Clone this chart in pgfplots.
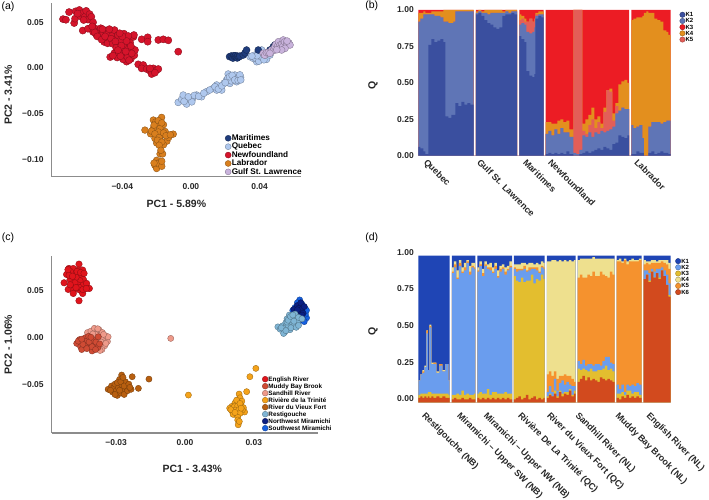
\documentclass[border=0pt]{standalone}
\usepackage{fontspec}
\setmainfont{Liberation Sans}
\usepackage{pgfplots}
\usepackage{pgfplotstable}
\pgfplotsset{compat=1.18}

% panel (a)
\definecolor{mar}{HTML}{1F3C7C}
\definecolor{que}{HTML}{AFC8EE}
\definecolor{nfl}{HTML}{D5142B}
\definecolor{lab}{HTML}{D97F1E}
\definecolor{gsl}{HTML}{C9B3DC}
% panel (b)
\definecolor{bA}{HTML}{3A4F9F}
\definecolor{bB}{HTML}{5F75B6}
\definecolor{bC}{HTML}{EC1C24}
\definecolor{bD}{HTML}{E38F1E}
\definecolor{bE}{HTML}{E35E58}
% panel (c)
\definecolor{eng}{HTML}{E0141C}
\definecolor{mud}{HTML}{CF4B34}
\definecolor{san}{HTML}{EE9A8A}
\definecolor{riv}{HTML}{F5A31A}
\definecolor{vie}{HTML}{B85F10}
\definecolor{res}{HTML}{7FB5D5}
\definecolor{nwm}{HTML}{0A1E82}
\definecolor{swm}{HTML}{1560E0}
% panel (d)
\definecolor{dA}{HTML}{1F45B5}
\definecolor{dB}{HTML}{6A9DEE}
\definecolor{dC}{HTML}{E3BE2F}
\definecolor{dD}{HTML}{EEE08E}
\definecolor{dE}{HTML}{F5922E}
\definecolor{dF}{HTML}{D24A1E}

% individuals along x (zero rows make the white gaps between groups)
\pgfplotstableread{
x k1 k2 k5 k4 k3
0 .06 .86 0 .06 .02
2 .05 .89 0 .04 .02
5 .03 .94 0 .02 .01
7 .01 .96 0 .01 .02
10 .76 .21 0 .01 .02
13 .80 .17 0 .02 .01
16 .78 .18 0 .03 .01
19 .79 .17 0 .03 .01
22 .80 .15 0 .04 .01
25 .78 .14 0 .08 0
27 .27 .65 0 .08 0
30 .26 .65 0 .09 0
33 .28 .63 0 .09 0
35 .28 .64 0 .08 0
37 .36 .63 0 .01 0
40 .34 .65 0 .01 0
43 .37 .62 0 .01 0
46 .35 .64 0 .01 0
49 .36 .63 0 .01 0
52 .35 .64 0 .01 0
55.4 0 0 0 0 0
57.6 .97 .01 0 .01 .01
60 .98 .01 0 .01 0
63 .96 .02 0 .01 .01
66 .93 .05 0 .02 0
69 .91 .06 0 .03 0
72 .90 .08 0 .02 0
75 .88 .10 0 .02 0
78 .87 .11 0 .02 0
81 .88 .10 0 .02 0
84 .96 .02 0 .01 .01
87 .97 .02 0 .01 0
90 .97 .01 0 .02 0
93 .98 .01 0 .01 0
96 .97 .02 0 .01 0
98.7 0 0 0 0 0
101 .82 .08 .03 .04 .03
103 .80 .11 .03 .02 .04
106 .78 .12 .02 .02 .06
108 .58 .27 .07 0 .08
111 .55 .29 .10 0 .06
114 .54 .31 .07 0 .08
116 .56 .32 .06 0 .06
117 .94 .02 .01 .01 .02
120 .96 .01 0 .02 .01
123 .95 .02 0 .02 .01
125.4 0 0 0 0 0
127.3 .01 .14 0 .08 .77
130 .02 .15 0 .06 .77
133 .01 .13 0 .08 .78
136 .02 .16 0 .04 .78
139 .01 .14 0 .09 .76
142 .02 .17 0 .06 .75
145 .01 .15 0 .07 .77
148 .03 .13 0 .08 .76
151 .01 .12 0 .05 .82
155 0 .02 .98 0 0
158 0 .01 .99 0 0
161 .01 .03 .96 0 0
164 .02 .12 .03 .05 .78
167 .03 .10 .02 .10 .75
170 .02 .14 .05 .07 .72
173 .03 .10 .12 .08 .67
176 .04 .12 .03 .06 .75
179 .05 .10 .08 .04 .73
182 .04 .13 .02 .03 .78
185 .06 .10 .14 .03 .67
188 .05 .12 .28 0 .55
191 .04 .14 .26 .02 .54
194 .08 .12 .04 .05 .71
197 .09 .20 .05 .02 .64
200 .14 .17 0 .18 .51
203 .13 .20 0 .18 .49
206 .12 .20 0 .20 .48
209 .14 .18 0 .18 .50
210.7 0 0 0 0 0
213 .01 .20 0 .72 .07
215 .01 .18 0 .75 .06
218 .03 .17 0 .75 .05
221 .02 .19 0 .74 .05
224 .02 .10 0 .84 .04
225.5 0 0 0 .98 .02
228 0 0 0 .99 .01
230 .02 .18 0 .78 .02
233 .03 .20 0 .75 .02
236 .01 .22 0 .71 .06
239 .02 .21 0 .70 .07
242 .03 .19 0 .70 .08
245 .02 .21 0 .63 .14
248 .02 .22 0 .61 .15
250 .01 .23 0 .59 .17
252.4 .01 .23 0 .59 .17
}\bdata

\pgfplotstableread{
x k6 k3 k2 k5 k4 k1
0 .03 .02 .10 0 0 .85
2 .04 .02 .13 0 0 .81
4 .03 .03 .14 .01 .01 .78
6 .04 .02 .18 0 .01 .75
8 .03 .03 .41 .02 0 .51
9.5 .04 .03 .15 0 0 .78
11 .03 .04 .44 .01 .01 .47
13 .04 .02 .20 0 .01 .73
15 .03 .03 .20 .01 0 .73
18 .04 .02 .14 0 .01 .79
21 .03 .03 .19 .01 0 .74
24 .04 .02 .15 0 .01 .78
27 .03 .03 .20 0 0 .74
30 .03 .02 .10 0 0 .85
31.4 0 0 0 0 0 0
33.6 .02 .03 .83 .01 .03 .08
35.5 .03 .02 .87 .02 .02 .04
38 .02 .04 .78 .01 .05 .10
40.5 .02 .03 .88 .02 .02 .03
43 .03 .05 .80 .01 .03 .08
45.5 .02 .03 .85 .02 .03 .05
48 .02 .04 .89 .01 .01 .03
50.5 .03 .02 .82 .02 .04 .07
53 .02 .03 .87 .01 .02 .05
55.5 .02 .04 .85 .01 .03 .05
57 0 0 0 0 0 0
59 .03 .03 .83 .01 .02 .08
61 .02 .05 .86 .01 .02 .04
63.5 .03 .03 .80 .02 .03 .09
66 .02 .04 .87 .01 .02 .04
68.5 .03 .06 .82 .01 .02 .06
71 .02 .03 .85 .02 .03 .05
73.5 .03 .04 .81 .01 .03 .08
76 .02 .05 .84 .02 .02 .05
78.5 .03 .03 .79 .01 .04 .10
81 .02 .04 .83 .02 .02 .07
83.5 .03 .03 .85 .01 .02 .06
86 .02 .05 .80 .02 .03 .08
88.5 .03 .03 .84 .01 .02 .07
91 .02 .04 .86 .01 .03 .04
93.7 0 0 0 0 0 0
95.6 .02 .84 .05 .01 .02 .06
97.5 .03 .80 .06 .02 .03 .06
100 .04 .78 .08 .01 .03 .06
102.5 .02 .83 .05 .01 .04 .05
105 .03 .79 .09 .02 .02 .05
107.5 .05 .78 .06 .01 .04 .06
110 .02 .81 .07 .02 .03 .05
112.5 .03 .84 .04 .01 .03 .05
115 .04 .77 .10 .01 .02 .06
117.5 .02 .82 .06 .02 .03 .05
120 .03 .80 .05 .01 .05 .06
122.5 .02 .85 .05 .01 .03 .04
125 .03 .81 .07 .01 .03 .05
126.4 0 0 0 0 0 0
128.6 .03 .01 .03 .12 .77 .04
130.5 .05 .01 .05 .10 .75 .04
133 .04 0 .03 .11 .79 .03
135.5 .06 .02 .08 .05 .76 .03
138 .03 .01 .04 .08 .80 .04
140.5 .07 .01 .05 .05 .79 .03
143 .04 .02 .09 .03 .78 .04
145.5 .06 .01 .05 .07 .78 .03
148 .05 .02 .07 .04 .78 .04
150.5 .08 .01 .03 .06 .79 .03
153 .04 .01 .06 .05 .80 .04
155.5 .06 .02 .03 .03 .83 .03
157.4 0 0 0 0 0 0
159.3 .14 .09 .05 .57 .12 .03
161.5 .16 .06 .04 .61 .11 .02
164 .18 .05 .06 .56 .13 .02
166.5 .15 .07 .03 .60 .13 .02
169 .17 .04 .05 .61 .11 .02
171.5 .15 .08 .03 .60 .12 .02
174 .16 .05 .04 .64 .10 .01
176.5 .15 .06 .05 .60 .12 .02
179 .14 .08 .04 .60 .12 .02
181.5 .17 .05 .03 .64 .09 .02
184 .16 .07 .05 .59 .11 .02
186.5 .15 .10 .06 .55 .12 .02
189 .16 .06 .09 .54 .13 .02
191.5 .15 .08 .04 .62 .09 .02
194 .14 .07 .05 .61 .11 .02
196.4 0 0 0 0 0 0
198.3 .03 .03 .06 .84 .01 .03
200.5 .02 .04 .03 .87 .02 .02
203 .04 .03 .05 .83 .01 .04
205.5 .03 .02 .02 .90 .01 .02
208 .05 .03 .04 .82 .02 .04
210.5 .03 .05 .03 .85 .01 .03
213 .04 .02 .06 .84 .02 .02
215.5 .03 .04 .04 .85 .01 .03
218 .04 .03 .06 .83 .01 .03
220.5 .03 .02 .07 .85 .01 .02
223.4 0 0 0 0 0 0
225.3 .84 0 .06 .04 .03 .03
227.5 .87 0 .03 .05 .01 .04
230 .82 .01 .05 .06 .02 .04
232.5 .89 0 .02 .04 .02 .03
235 .85 0 .04 .06 .02 .03
237.5 .88 0 .03 .04 .01 .04
240 .84 .01 .06 .04 .02 .03
242.5 .90 0 .02 .04 .01 .03
245 .86 0 .04 .05 .02 .03
247.5 .80 0 .07 .07 .03 .03
250 .72 .01 .08 .10 .04 .05
252.4 .72 .01 .08 .10 .04 .05
}\ddata

\pgfplotsset{
  pt/.style 2 args={only marks, mark=*, forget plot, mark size=#2,
    mark options={fill=#1, draw=#1!65!black, line width=0.35pt}},
  lg/.style 2 args={only marks, mark=*, mark size=#2,
    mark options={fill=#1, draw=#1!65!black, line width=0.35pt}},
  layer/.style={const plot, no marks, draw=none, fill=#1, forget plot},
  commonax/.style={
    scale only axis, clip=true,
    scaled ticks=false,
    major tick length=0pt,
    tick label style={font=\bfseries\fontsize{8.5}{10}\selectfont, text=black!85},
    label style={font=\bfseries\fontsize{10.5}{12}\selectfont, text=black!85},
    legend image code/.code={\draw[##1] plot coordinates {(3pt,0pt)};},
  },
  pcaax/.style={
    commonax,
    axis x line=bottom, axis y line=left,
    axis line style={-, black!45, line width=1.1pt},
    xticklabel style={yshift=-3pt},
    yticklabel style={xshift=-4.5pt},
    xlabel style={at={(axis description cs:0.5,-0.155)}, anchor=center},
    legend cell align=left,
  },
  barax/.style={
    commonax,
    axis line style={draw=none},
    xmin=0, xmax=252.4, ymin=0, ymax=1,
    ytick={0,0.25,0.5,0.75,1},
    yticklabels={0.00,0.25,0.50,0.75,1.00},
    ylabel=Q,
    ylabel style={at={(axis description cs:-0.18,0.48)}, anchor=center},
    yticklabel style={xshift=-1pt},
    xticklabel style={rotate=-45, anchor=north west, font=\bfseries\fontsize{9}{10}\selectfont},
    legend cell align=left,
  },
}

\begin{document}
\begin{tikzpicture}[x=1pt,y=1pt]
\useasboundingbox (0,0) rectangle (709,499);
\node[anchor=center, font=\fontsize{10.5}{12}\selectfont] at (8,492) {(a)};
\node[anchor=center, font=\fontsize{10.5}{12}\selectfont] at (371.7,493) {(b)};
\node[anchor=center, font=\fontsize{10.5}{12}\selectfont] at (8,261) {(c)};
\node[anchor=center, font=\fontsize{10.5}{12}\selectfont] at (371.7,261) {(d)};

% ---- (a) PCA regional
\begin{axis}[pcaax,
  at={(51.7pt,322.3pt)}, anchor=south west, width=249.3pt, height=173.4pt,
  xmin=-0.0811, xmax=0.0641, ymin=-0.1189, ymax=0.0708,
  xtick={-0.04,0,0.04}, xticklabels={−0.04,0.00,0.04},
  ytick={-0.10,-0.05,0,0.05}, yticklabels={−0.10,−0.05,0.00,0.05},
  xlabel={PC1 - 5.89\%}, ylabel={PC2 - 3.41\%},
  ylabel style={at={(axis description cs:-0.174,0.47)}, anchor=center},
  legend style={draw=none, fill=none, at={(0.695,0.247)}, anchor=north west, inner sep=0pt,
    font=\bfseries\fontsize{8.2}{9}\selectfont, row sep=0pt,
    nodes={inner sep=0.6pt, text height=5.8pt, text depth=1.4pt}},
]
\addplot[pt={nfl}{3.6pt}] table {
-.0745 .0535
-.0728 .0528
-.0710 .0612
-.0680 .0492
-.0675 .0540
-.0672 .0620
-.0650 .0635
-.0642 .0565
-.0632 .0600
-.0618 .0560
-.0610 .0625
-.0600 .0530
-.0590 .0590
-.0580 .0560
-.0570 .0500
-.0630 .0410
-.0588 .0434
-.0570 .0395
-.0555 .0430
-.0550 .0360
-.0540 .0400
-.0530 .0350
-.0525 .0435
-.0510 .0380
-.0505 .0285
-.0495 .0410
-.0490 .0330
-.0480 .0390
-.0470 .0120
-.0470 .0280
-.0460 .0350
-.0450 .0310
-.0445 .0415
-.0430 .0270
-.0425 .0360
-.0415 .0225
-.0410 .0300
-.0400 .0190
-.0390 .0375
-.0445 .0165
-.0430 .0115
-.0385 .0130
-.0380 .0240
-.0375 .0070
-.0365 .0165
-.0355 .0280
-.0350 .0100
-.0340 .0205
-.0335 .0340
-.0330 .0140
-.0326 .0197
-.0400 .0125
-.0360 .0220
-.0332 .0361
-.0560 .0390
-.0545 .0345
-.0520 .0310
-.0515 .0425
-.0500 .0345
-.0485 .0270
-.0475 .0425
-.0465 .0320
-.0455 .0265
-.0440 .0290
-.0435 .0220
-.0420 .0165
-.0405 .0245
-.0395 .0095
-.0370 .0120
-.0360 .0085
-.0345 .0160
-.0350 .0240
-.0380 .0180
-.0410 .0130
-.0425 .0195
-.0455 .0135
-.0365 .0350
-.0375 .0295
-.0400 .0345
-.0415 .0380
-.0600 .0430
-.0575 .0455
-.0660 .0595
-.0625 .0525
-.0307 .0040
-.0278 .0033
-.0287 -.0004
-.0258 -.0011
-.0239 -.0029
-.0219 -.0004
-.0200 -.0022
-.0190 -.0011
-.0229 -.0066
-.0210 -.0051
-.0239 -.0004
-.0287 .0314
-.0252 .0336
-.0252 .0288
-.0190 .0307
-.0161 .0314
-.0132 .0303
-.0074 .0179
};
\addplot[pt={lab}{3.4pt}] table {
-.0268 -.0679
-.0219 -.0569
-.0205 -.0590
-.0171 -.0540
-.0200 -.0610
-.0160 -.0620
-.0180 -.0660
-.0219 -.0660
-.0150 -.0695
-.0103 -.0723
-.0235 -.0720
-.0210 -.0770
-.0180 -.0790
-.0140 -.0800
-.0200 -.0820
-.0160 -.0840
-.0175 -.0740
-.0130 -.0760
-.0190 -.0700
-.0180 -.0940
-.0165 -.0940
-.0200 -.1010
-.0210 -.1065
-.0180 -.1045
-.0200 -.1099
-.0190 -.1040
-.0215 -.0625
-.0190 -.0575
-.0170 -.0600
-.0230 -.0690
-.0210 -.0720
-.0185 -.0760
-.0160 -.0710
-.0145 -.0740
-.0120 -.0730
-.0195 -.0790
-.0170 -.0810
-.0185 -.0845
-.0175 -.0900
-.0195 -.1045
-.0170 -.1075
-.0215 -.1040
-.0170 -.1020
};
\addplot[pt={que}{3.5pt}] table {
.0344 .0124
.0373 .0142
.0383 .0069
.0402 .0095
.0421 .0124
.0392 .0161
.0440 .0095
.0363 .0106
.0412 .0197
.0460 .0142
.0375 .0110
.0395 .0075
.0410 .0120
.0425 .0090
.0385 .0135
.0355 .0130
-.0074 -.0376
-.0054 -.0343
-.0045 -.0296
-.0025 -.0394
-.0006 -.0343
.0010 -.0332
.0033 -.0296
.0062 -.0314
.0091 -.0259
.0130 -.0223
.0150 -.0241
.0169 -.0212
.0192 -.0168
.0208 -.0131
.0217 -.0066
.0227 -.0168
.0247 -.0113
.0266 -.0150
.0289 -.0102
.0256 -.0077
.0179 -.0241
.0150 -.0186
.0215 -.0110
.0235 -.0140
.0275 -.0115
.0005 -.0370
-.0040 -.0365
-.0015 -.0315
.0020 -.0300
.0045 -.0310
.0075 -.0275
.0110 -.0240
.0140 -.0205
.0160 -.0230
.0180 -.0195
.0200 -.0160
.0225 -.0095
.0240 -.0080
.0255 -.0130
.0275 -.0135
.0285 -.0075
.0290 -.0130
};
\addplot[pt={mar}{3.5pt}] table {
.0225 .0124
.0235 .0132
.0240 .0118
.0245 .0108
.0250 .0135
.0256 .0124
.0260 .0135
.0265 .0115
.0270 .0110
.0272 .0130
.0280 .0122
.0285 .0130
.0305 .0142
.0315 .0165
.0324 .0197
.0392 .0197
.0460 .0197
.0480 .0234
.0489 .0252
.0490 .0210
};
\addplot[pt={gsl}{3.5pt}] table {
.0421 .0161
.0430 .0140
.0440 .0168
.0450 .0170
.0470 .0197
.0480 .0190
.0489 .0234
.0495 .0260
.0505 .0240
.0510 .0288
.0519 .0252
.0520 .0215
.0530 .0265
.0535 .0235
.0538 .0307
.0545 .0285
.0558 .0270
.0570 .0275
.0577 .0252
.0548 .0215
.0528 .0197
.0460 .0161
.0500 .0200
.0560 .0295
};
\addlegendimage{lg={mar}{3pt}}\addlegendentry{Maritimes}
\addlegendimage{lg={que}{3pt}}\addlegendentry{Quebec}
\addlegendimage{lg={nfl}{3pt}}\addlegendentry{Newfoundland}
\addlegendimage{lg={lab}{3pt}}\addlegendentry{Labrador}
\addlegendimage{lg={gsl}{3pt}}\addlegendentry{Gulf St. Lawrence}
\end{axis}

% ---- (b) admixture regional: layers painted from the top one down, each to its running sum
\begin{axis}[barax,
  at={(418.3pt,343.3pt)}, anchor=south west, width=252.4pt, height=145.7pt,
  xtick={7.3,60.7,106.7,131.7,218},
  xticklabels={Quebec,Gulf St. Lawrence,Maritimes,Newfoundland,Labrador},
  xticklabel style={yshift=3.2pt},
  legend style={draw=none, fill=none, at={(1.035,0.99)}, anchor=north west, inner sep=0pt,
    font=\bfseries\fontsize{6}{7}\selectfont, row sep=0pt,
    nodes={inner sep=0.4pt, text height=4.6pt, text depth=0.8pt}},
]
\addplot[layer=bC] table[x=x, y expr=\thisrow{k1}+\thisrow{k2}+\thisrow{k5}+\thisrow{k4}+\thisrow{k3}] {\bdata} \closedcycle;
\addplot[layer=bD] table[x=x, y expr=\thisrow{k1}+\thisrow{k2}+\thisrow{k5}+\thisrow{k4}] {\bdata} \closedcycle;
\addplot[layer=bE] table[x=x, y expr=\thisrow{k1}+\thisrow{k2}+\thisrow{k5}] {\bdata} \closedcycle;
\addplot[layer=bB] table[x=x, y expr=\thisrow{k1}+\thisrow{k2}] {\bdata} \closedcycle;
\addplot[layer=bA] table[x=x, y=k1] {\bdata} \closedcycle;
\addlegendimage{lg={bA}{2.7pt}}\addlegendentry{K1}
\addlegendimage{lg={bB}{2.7pt}}\addlegendentry{K2}
\addlegendimage{lg={bC}{2.7pt}}\addlegendentry{K3}
\addlegendimage{lg={bD}{2.7pt}}\addlegendentry{K4}
\addlegendimage{lg={bE}{2.7pt}}\addlegendentry{K5}
\end{axis}

% ---- (c) PCA rivers
\begin{axis}[pcaax,
  at={(51.7pt,66pt)}, anchor=south west, width=266.3pt, height=177pt,
  xmin=-0.0581, xmax=0.058, ymin=-0.1007, ymax=0.0864,
  xtick={-0.03,0,0.03}, xticklabels={−0.03,0.00,0.03},
  ytick={-0.05,0,0.05}, yticklabels={−0.05,0.00,0.05},
  xlabel={PC1 - 3.43\%}, ylabel={PC2 - 1.06\%},
  xlabel style={at={(axis description cs:0.528,-0.2)}, anchor=center},
  ylabel style={at={(axis description cs:-0.163,0.5)}, anchor=center},
  legend style={draw=none, fill=none, at={(0.79,0.325)}, anchor=north west, inner sep=0pt,
    font=\bfseries\fontsize{6.3}{7}\selectfont, row sep=0pt,
    nodes={inner sep=0.4pt, text height=5pt, text depth=1.2pt}},
]
\addplot[pt={eng}{3.3pt}] table {
-.0462 .0778
-.0506 .0732
-.0487 .0732
-.0465 .0715
-.0446 .0715
-.0516 .0669
-.0494 .0680
-.0472 .0662
-.0450 .0662
-.0443 .0616
-.0501 .0616
-.0479 .0609
-.0458 .0602
-.0527 .0581
-.0487 .0556
-.0465 .0556
-.0443 .0556
-.0429 .0574
-.0509 .0511
-.0484 .0504
-.0458 .0504
-.0417 .0521
-.0446 .0468
-.0487 .0468
-.0462 .0391
-.0500 .0700
-.0475 .0640
-.0505 .0660
-.0490 .0650
-.0470 .0700
-.0455 .0690
-.0440 .0680
-.0480 .0580
-.0460 .0530
-.0445 .0510
-.0500 .0560
-.0475 .0530
-.0430 .0520
-.0510 .0720
};
\addplot[pt={san}{3.1pt}] table {
-.0425 .0055
-.0410 .0070
-.0395 .0100
-.0385 .0060
-.0375 .0085
-.0370 .0030
-.0360 .0055
-.0355 -.0010
-.0345 .0020
-.0338 -.0040
-.0350 -.0085
-.0362 -.0125
-.0375 -.0100
-.0335 .0010
-.0355 .0035
-.0365 -.0045
-.0390 .0035
-.0402 .0040
-.0380 .0095
-.0345 -.0060
-.0370 -.0135
-.0062 -.0007
};
\addplot[pt={mud}{3.1pt}] table {
-.0472 -.0060
-.0460 -.0020
-.0455 -.0095
-.0450 -.0125
-.0440 -.0040
-.0435 .0000
-.0432 -.0085
-.0425 -.0030
-.0420 .0015
-.0415 -.0110
-.0412 -.0060
-.0405 -.0140
-.0400 -.0025
-.0395 -.0085
-.0388 -.0045
-.0380 -.0105
-.0378 .0010
-.0372 -.0065
-.0445 -.0070
-.0428 -.0115
-.0465 -.0035
-.0450 -.0015
-.0418 -.0045
-.0405 -.0095
-.0390 -.0125
-.0410 .0005
};
\addplot[pt={vie}{3.1pt}] table {
-.0335 -.0545
-.0320 -.0510
-.0315 -.0575
-.0310 -.0525
-.0305 -.0490
-.0300 -.0560
-.0295 -.0610
-.0290 -.0530
-.0285 -.0440
-.0280 -.0585
-.0275 -.0500
-.0270 -.0545
-.0265 -.0600
-.0276 -.0394
-.0260 -.0465
-.0255 -.0525
-.0250 -.0560
-.0295 -.0475
-.0230 -.0412
-.0235 -.0545
-.0203 -.0535
-.0157 -.0437
-.0280 -.0465
-.0265 -.0510
-.0285 -.0555
-.0245 -.0490
-.0305 -.0600
-.0270 -.0420
-.0240 -.0525
-.0325 -.0555
};
\addplot[pt={riv}{3.1pt}] table {
.0236 -.0595
.0240 -.0635
.0218 -.0690
.0232 -.0680
.0248 -.0670
.0205 -.0725
.0195 -.0745
.0215 -.0730
.0230 -.0720
.0245 -.0715
.0255 -.0740
.0260 -.0785
.0205 -.0775
.0220 -.0765
.0235 -.0760
.0250 -.0765
.0210 -.0810
.0225 -.0805
.0240 -.0800
.0230 -.0840
.0230 -.0870
.0232 -.0920
.0237 -.0885
.0225 -.0660
.0240 -.0695
.0200 -.0760
.0218 -.0790
.0245 -.0745
.0015 -.0606
.0269 -.0570
.0283 -.0412
.0309 -.0324
};
\addplot[pt={swm}{3.1pt}] table {
.0500 .0400
.0490 .0370
.0480 .0320
.0525 .0305
.0530 .0210
.0515 .0190
.0500 .0180
.0525 .0250
.0470 .0290
.0510 .0355
.0520 .0170
.0530 .0290
};
\addplot[pt={nwm}{3.1pt}] table {
.0475 .0300
.0485 .0270
.0490 .0340
.0495 .0310
.0500 .0280
.0505 .0370
.0510 .0300
.0515 .0260
.0520 .0330
.0500 .0225
.0490 .0295
.0510 .0240
};
\addplot[pt={res}{3.1pt}] table {
.0405 .0115
.0415 .0090
.0425 .0125
.0435 .0060
.0437 .0105
.0440 .0160
.0445 .0200
.0450 .0130
.0455 .0240
.0458 .0085
.0465 .0170
.0470 .0210
.0475 .0120
.0480 .0250
.0490 .0165
.0495 .0215
.0510 .0200
.0462 .0105
.0445 .0165
.0430 .0045
.0420 .0105
.0440 .0075
.0450 .0185
.0460 .0225
.0475 .0175
.0485 .0110
.0470 .0240
.0495 .0130
};
\addlegendimage{lg={eng}{2.9pt}}\addlegendentry{English River}
\addlegendimage{lg={mud}{2.9pt}}\addlegendentry{Muddy Bay Brook}
\addlegendimage{lg={san}{2.9pt}}\addlegendentry{Sandhill River}
\addlegendimage{lg={riv}{2.9pt}}\addlegendentry{Rivière de la Trinité}
\addlegendimage{lg={vie}{2.9pt}}\addlegendentry{River du Vieux Fort}
\addlegendimage{lg={res}{2.9pt}}\addlegendentry{Restigouche}
\addlegendimage{lg={nwm}{2.9pt}}\addlegendentry{Northwest Miramichi}
\addlegendimage{lg={swm}{2.9pt}}\addlegendentry{Southwest Miramichi}
\end{axis}

% ---- (d) admixture rivers
\begin{axis}[barax,
  at={(418.3pt,96.7pt)}, anchor=south west, width=252.4pt, height=146.7pt,
  yticklabel style={yshift=3.3pt},
  xtick={6.7,41.7,68.3,102.7,131.7,160,200,231},
  xticklabel style={xshift=3.9pt, yshift=-2pt},
  xticklabels={Restigouche (NB),Miramichi – Upper SW (NB),Miramichi – Upper NW (NB),Rivière De La Trinité (QC),River du Vieux Fort (QC),Sandhill River (NL),Muddy Bay Brook (NL),English River (NL)},
  legend style={draw=none, fill=none, at={(1.018,0.985)}, anchor=north west, inner sep=0pt,
    font=\bfseries\fontsize{6}{7}\selectfont, row sep=0pt,
    nodes={inner sep=0.4pt, text height=4.6pt, text depth=0.8pt}},
]
\addplot[layer=dA] table[x=x, y expr=\thisrow{k6}+\thisrow{k3}+\thisrow{k2}+\thisrow{k5}+\thisrow{k4}+\thisrow{k1}] {\ddata} \closedcycle;
\addplot[layer=dD] table[x=x, y expr=\thisrow{k6}+\thisrow{k3}+\thisrow{k2}+\thisrow{k5}+\thisrow{k4}] {\ddata} \closedcycle;
\addplot[layer=dE] table[x=x, y expr=\thisrow{k6}+\thisrow{k3}+\thisrow{k2}+\thisrow{k5}] {\ddata} \closedcycle;
\addplot[layer=dB] table[x=x, y expr=\thisrow{k6}+\thisrow{k3}+\thisrow{k2}] {\ddata} \closedcycle;
\addplot[layer=dC] table[x=x, y expr=\thisrow{k6}+\thisrow{k3}] {\ddata} \closedcycle;
\addplot[layer=dF] table[x=x, y=k6] {\ddata} \closedcycle;
\addlegendimage{lg={dA}{2.7pt}}\addlegendentry{K1}
\addlegendimage{lg={dB}{2.7pt}}\addlegendentry{K2}
\addlegendimage{lg={dC}{2.7pt}}\addlegendentry{K3}
\addlegendimage{lg={dD}{2.7pt}}\addlegendentry{K4}
\addlegendimage{lg={dE}{2.7pt}}\addlegendentry{K5}
\addlegendimage{lg={dF}{2.7pt}}\addlegendentry{K6}
\end{axis}
\end{tikzpicture}
\end{document}
